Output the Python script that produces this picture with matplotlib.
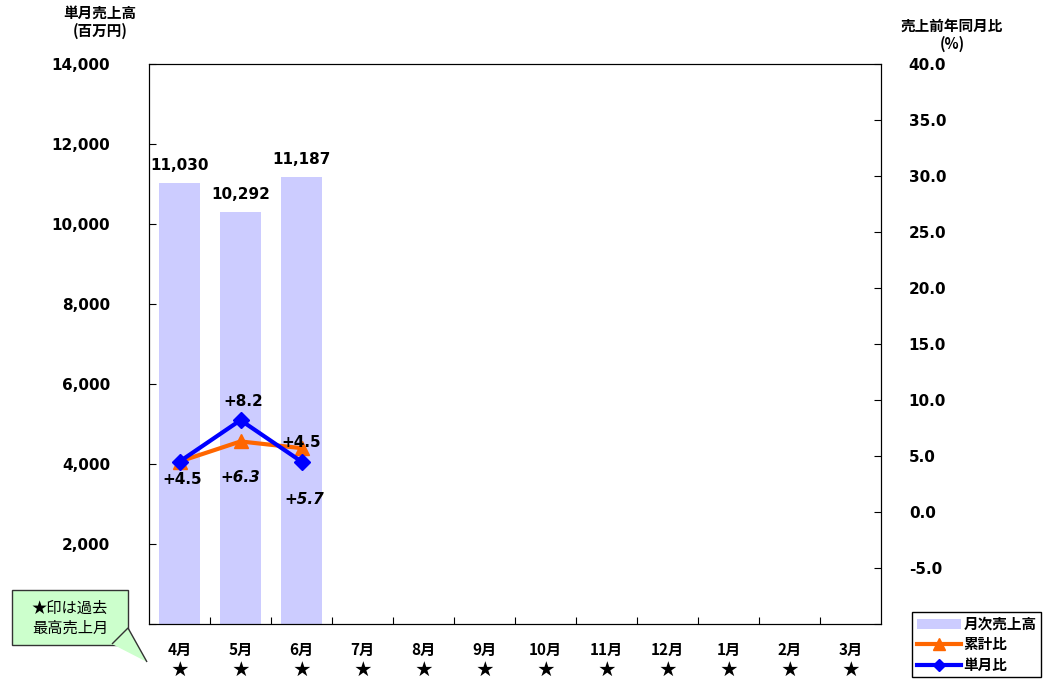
import numpy as np
import matplotlib.pyplot as plt
from matplotlib.patches import FancyBboxPatch, Polygon
from matplotlib.lines import Line2D
from matplotlib.patches import Patch

plt.rcParams['font.family'] = ['Noto Sans CJK JP', 'DejaVu Sans']
plt.rcParams['font.weight'] = 'bold'
plt.rcParams['axes.unicode_minus'] = True

months = ['4月', '5月', '6月', '7月', '8月', '9月', '10月', '11月', '12月', '1月', '2月', '3月']
sales = [11030, 10292, 11187]
sales_labels = ['11,030', '10,292', '11,187']
cum_ratio = [4.5, 6.3, 5.7]
month_ratio = [4.5, 8.2, 4.5]
star_months = ['★'] * 12

x = np.arange(len(months))
num_font = ['DejaVu Sans']

fig = plt.figure(figsize=(10.45, 6.79), dpi=100)
ax = fig.add_axes([149 / 1045, 1 - 624 / 679, 732 / 1045, 560 / 679])
ax2 = ax.twinx()

ax.bar(x[:len(sales)], sales, width=0.66, color='#ccccff', zorder=1)
ax.set_xlim(-0.5, 11.5)
ax.set_ylim(0, 14000)
ax.set_yticks(np.arange(0, 14001, 2000))
ax.set_yticklabels([''] + [f'{v:,}' for v in range(2000, 14001, 2000)])
ax.set_xticks(np.arange(0.5, 11, 1))
ax.set_xticklabels([])
ax.tick_params(axis='x', direction='in', length=5)
ax.tick_params(axis='y', direction='in', length=5, labelsize=11, pad=28)

for i, (v, s) in enumerate(zip(sales, sales_labels)):
    ax.text(i, v + 250, s, ha='center', va='bottom', fontsize=11, fontweight='bold', family=num_font)

for i, m in enumerate(months):
    ax.text(i, -650, m, ha='center', va='center', fontsize=11, fontweight='bold')
    ax.text(i, -1150, star_months[i], ha='center', va='center', fontsize=12)

ax2.set_ylim(-10, 40)
ax2.set_yticks(np.arange(-10, 40.1, 5))
ax2.set_yticklabels([''] + [f'{v:.1f}' for v in np.arange(-5, 40.1, 5)])
ax2.tick_params(axis='y', direction='in', length=5, labelsize=11, pad=20)
for lab in ax2.get_yticklabels() + ax.get_yticklabels():
    lab.set_fontweight('bold')
    lab.set_family(num_font)

n = len(cum_ratio)
ax2.plot(x[:n], cum_ratio, color='#ff6600', lw=3, marker='^', ms=10, zorder=3)
ax2.plot(x[:n], month_ratio, color='#0000ff', lw=3, marker='D', ms=8, zorder=4)

# single-month labels
ax2.text(x[0] + 0.05, month_ratio[0] - 1.6, f'+{month_ratio[0]}', ha='center', va='center', fontsize=11, family=num_font)
ax2.text(x[1] + 0.05, month_ratio[1] + 1.7, f'+{month_ratio[1]}', ha='center', va='center', fontsize=11, family=num_font)
ax2.text(x[2], month_ratio[2] + 1.7, f'+{month_ratio[2]}', ha='center', va='center', fontsize=11, family=num_font)
# cumulative labels
ax2.text(x[1], cum_ratio[1] - 3.2, f'+{cum_ratio[1]}', ha='center', va='center', fontsize=11,
         style='italic', family=num_font)
ax2.text(x[2] + 0.05, cum_ratio[2] - 4.6, f'+{cum_ratio[2]}', ha='center', va='center', fontsize=11,
         style='italic', family=num_font)

fig.text(100 / 1045, 1 - 22 / 679, '単月売上高\n(百万円)', ha='center', va='center', fontsize=10.5,
         fontweight='bold', linespacing=1.1)
fig.text(952 / 1045, 1 - 35 / 679, '売上前年同月比\n(%)', ha='center', va='center', fontsize=10.5,
         fontweight='bold', linespacing=1.1)

# callout box
box = FancyBboxPatch((12 / 1045, 1 - 645 / 679), 116 / 1045, 55 / 679, boxstyle='square,pad=0',
                     transform=fig.transFigure, facecolor='#ccffcc', edgecolor='#333333', lw=1)
fig.patches.append(box)
ptr = Polygon([(112 / 1045, 1 - 644 / 679), (128 / 1045, 1 - 628 / 679), (147 / 1045, 1 - 662 / 679)],
              closed=False, transform=fig.transFigure, facecolor='#ccffcc', edgecolor='#333333', lw=1)
fig.patches.append(ptr)
fig.text(70 / 1045, 1 - 618 / 679, '★印は過去\n最高売上月', ha='center', va='center', fontsize=11,
         fontweight='normal', linespacing=1.2)

handles = [Patch(facecolor='#ccccff', edgecolor='none'),
           Line2D([0], [0], color='#ff6600', lw=3, marker='^', ms=8),
           Line2D([0], [0], color='#0000ff', lw=3, marker='D', ms=6)]
leg = fig.legend(handles, ['月次売上高', '累計比', '単月比'], loc='lower right',
                 bbox_to_anchor=(1041 / 1045, 2 / 679), fancybox=False, framealpha=1,
                 edgecolor='black', handlelength=3.0, borderpad=0.3, borderaxespad=0,
                 labelspacing=0.3, handletextpad=0.2, prop={'weight': 'bold', 'size': 10.5})

fig.savefig('out.png', dpi=100)
